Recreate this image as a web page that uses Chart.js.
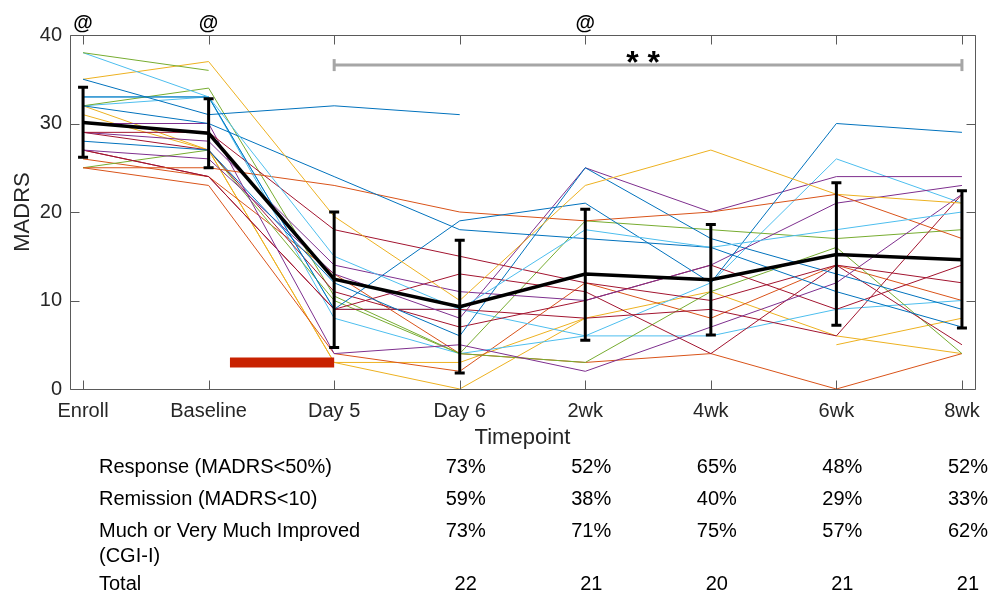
<!DOCTYPE html>
<html><head><meta charset="utf-8">
<script src="https://cdn.jsdelivr.net/npm/chart.js@4.4.1/dist/chart.umd.min.js"></script>
<style>
html,body{margin:0;padding:0;background:#fff;}
#wrap{position:relative;width:991px;height:594px;overflow:hidden;}
#c{position:absolute;left:0;top:0;}
.t{position:absolute;font-family:"Liberation Sans",Arial,Helvetica,sans-serif;color:#000;white-space:nowrap;font-size:20px;line-height:24px;}
.c{transform:translateX(-50%);}
.b{font-weight:bold;}
</style></head><body>
<div id="wrap"><canvas id="c" width="991" height="594"></canvas></div>
<script>
// ---------- data ----------
const timepoints = ['Enroll','Baseline','Day 5','Day 6','2wk','4wk','6wk','8wk'];
const yTicks = [0, 10, 20, 30, 40];
const meanMADRS = [30.1, 28.9, 12.4, 9.3, 13.0, 12.35, 15.2, 14.6];
const errLow  = [26.2, 25.0, 4.7, 1.8, 5.5, 6.1, 7.2, 6.9];
const errHigh = [34.1, 32.8, 20.0, 16.8, 20.3, 18.6, 23.3, 22.4];

const s01 = [35, 31, 32, 31, null, null, null, null];
const s02 = [38, 36, null, null, null, null, null, null];
const s03 = [38, 33, 15, 9, 18, 16, 18, 20];
const s04 = [35, 37, 19.5, 10, 23, 27, 22, 21];
const s05 = [32, 30, 24, 18, 17, 16, 11, 7];
const s06 = [33, 33, 9, 19, 21, 12, 30, 29];
const s07 = [25, 25, 23, 20, 19, 20, 22, 17];
const s08 = [29, 29, 18, 15, 12, 10, 14, 12];
const s09 = [29, 28, 14, 11, 10, 14, 21, 23];
const s10 = [30, 30, 4, 5, 2, 7, 12, 22];
const s11 = [28, 27, 12, 6, 25, 17, 13, 9];
const s12 = [27, 26, 13, 8, 25, 20, 24, 24];
const s13 = [29, 27, 11, 7, 10, 14, 9, 14];
const s14 = [27, 24, 9, 13, 11, 4, 14, 5];
const s15 = [27, 24, 9, 9, 8, 9, 6, 22];
const s16 = [32, 34, 10.5, 4, 19, 18, 17, 18];
const s17 = [25, 27, 10, 4, 3, 11, 16, 4];
const s18 = [32, 33, 8, 4, 6, 6, 9, 10];
const s19 = [33, 33, 9, 9, 6, 12, 26, 21];
const s20 = [25, 23, 4, 2, 12, 8, 14, 10];
const s21 = [26, 24, 13, 4, 3, 4, 0, 4];
const s22 = [32, 27, 3, 3, 8, null, 5, 8];
const s23 = [31, 27, 3, 0, 8, 11, 6, 4];
const subjects = [s01,s02,s03,s04,s05,s06,s07,s08,s09,s10,s11,s12,s13,s14,s15,s16,s17,s18,s19,s20,s21,s22,s23];

const sigSpan = [2, 7];        // Day 5 .. 8wk
const sigLevel = 36.6;
const infusionSpan = [1.17, 2];
const infusionLevel = 3;
const atMarks = ['Enroll', 'Baseline', '2wk'];
const sigText = '* *';

const tableRowLabels = ['Response (MADRS<50%)', 'Remission (MADRS<10)', 'Much or Very Much Improved', '(CGI-I)', 'Total'];
const tableCols = ['Day 6', '2wk', '4wk', '6wk', '8wk'];
const responsePct  = ['73%', '52%', '65%', '48%', '52%'];
const remissionPct = ['59%', '38%', '40%', '29%', '33%'];
const cgiPct       = ['73%', '71%', '75%', '57%', '62%'];
const totalN       = ['22', '21', '20', '21', '21'];

// ---------- styles ----------
const M = ['#0072BD','#D95319','#EDB120','#7E2F8E','#77AC30','#4DBEEE','#A2142F'];
const subjectColors = [M[0],M[4],M[5],M[2],M[0],M[0],M[1],M[6],M[3],M[3],M[0],M[3],M[6],M[6],M[6],M[4],M[4],M[5],M[5],M[1],M[1],M[2],M[2]];
const FONT = '"Liberation Sans", Arial, Helvetica, sans-serif';
const toPts = arr => arr.map((v, i) => ({x: i, y: v}));

const datasets = [];
subjects.forEach((s, k) => datasets.push({
  data: toPts(s), borderColor: subjectColors[k], borderWidth: 1, pointRadius: 0,
  spanGaps: false, order: 10, tension: 0
}));
datasets.push({
  data: toPts(meanMADRS), borderColor: '#000', borderWidth: 3.5, pointRadius: 0, order: 0
});
datasets.push({
  data: sigSpan.map(v => ({x: v, y: sigLevel})), borderColor: '#A6A6A6', borderWidth: 3,
  pointStyle: 'line', pointRotation: 90, pointRadius: 6, pointBorderWidth: 3,
  pointBorderColor: '#A6A6A6', order: 1
});
datasets.push({
  data: infusionSpan.map(v => ({x: v, y: infusionLevel})), borderColor: '#C82200', borderWidth: 10,
  borderCapStyle: 'butt', pointRadius: 0, order: 1
});

const framePlugin = {
  id: 'framePlugin',
  afterDatasetsDraw(chart) {
    const {ctx, scales: {x, y}} = chart;
    ctx.save();
    ctx.strokeStyle = '#000'; ctx.lineWidth = 3; ctx.lineCap = 'butt';
    meanMADRS.forEach((m, i) => {
      const px = x.getPixelForValue(i);
      const lo = y.getPixelForValue(errLow[i]), hi = y.getPixelForValue(errHigh[i]);
      ctx.beginPath();
      ctx.moveTo(px, lo); ctx.lineTo(px, hi);
      ctx.moveTo(px - 5, lo); ctx.lineTo(px + 5, lo);
      ctx.moveTo(px - 5, hi); ctx.lineTo(px + 5, hi);
      ctx.stroke();
    });
    ctx.restore();
  },
  afterDraw(chart) {
    const {ctx, chartArea: a, scales: {x, y}} = chart;
    ctx.save();
    ctx.strokeStyle = '#5a5a5a'; ctx.lineWidth = 1;
    const L = Math.round(a.left) + 0.5, R = Math.round(a.right) + 0.5;
    const T = Math.round(a.top) + 0.5, B = Math.round(a.bottom) + 0.5;
    ctx.beginPath();
    ctx.moveTo(L, T); ctx.lineTo(R, T); ctx.lineTo(R, B); ctx.lineTo(L, B); ctx.closePath();
    const tl = 9;
    x.ticks.forEach(t => {
      const px = Math.round(x.getPixelForValue(t.value)) + 0.5;
      ctx.moveTo(px, B); ctx.lineTo(px, B - tl);
      ctx.moveTo(px, T); ctx.lineTo(px, T + tl);
    });
    y.ticks.forEach(t => {
      const py = Math.round(y.getPixelForValue(t.value)) + 0.5;
      ctx.moveTo(L, py); ctx.lineTo(L + tl, py);
      ctx.moveTo(R, py); ctx.lineTo(R - tl, py);
    });
    ctx.stroke();
    ctx.restore();
  }
};

const chart = new Chart(document.getElementById('c'), {
  type: 'line',
  data: {datasets},
  plugins: [framePlugin],
  options: {
    responsive: false, animation: false,
    layout: {padding: {left: 10, right: 16, top: 35, bottom: 143}},
    plugins: {legend: {display: false}, tooltip: {enabled: false}},
    scales: {
      x: {
        type: 'linear', min: -0.104, max: 7.104,
        afterBuildTicks: s => { s.ticks = timepoints.map((_, i) => ({value: i})); },
        afterFit: s => { s.height = 62; },
        ticks: {callback: v => timepoints[v] ?? '', color: '#262626', font: {family: FONT, size: 20}, padding: 10, maxRotation: 0, autoSkip: false},
        grid: {display: false, drawTicks: false},
        border: {display: false},
        title: {display: true, text: 'Timepoint', color: '#262626', font: {family: FONT, size: 22}, padding: {top: 0, bottom: 0}}
      },
      y: {
        min: 0, max: 40,
        afterBuildTicks: s => { s.ticks = yTicks.map(v => ({value: v})); },
        afterFit: s => { s.width = 60; },
        ticks: {color: '#262626', font: {family: FONT, size: 20}, padding: 8},
        grid: {display: false, drawTicks: false},
        border: {display: false},
        title: {display: true, text: 'MADRS', color: '#262626', font: {family: FONT, size: 22}, padding: {top: 0, bottom: 4}}
      }
    }
  }
});

// ---------- text overlays ----------
const wrap = document.getElementById('wrap');
function addText(txt, left, centerY, cls, size) {
  const d = document.createElement('div');
  d.className = 't ' + (cls || '');
  d.textContent = txt;
  const lh = Math.round(size * 1.2);
  d.style.fontSize = size + 'px'; d.style.lineHeight = lh + 'px';
  d.style.left = left + 'px';
  d.style.top = (centerY - lh / 2) + 'px';
  wrap.appendChild(d);
}
const xs = chart.scales.x, ys = chart.scales.y;
atMarks.forEach(m => addText('@', xs.getPixelForValue(timepoints.indexOf(m)), 22, 'c b', 20));
addText(sigText, (xs.getPixelForValue(sigSpan[0]) + xs.getPixelForValue(sigSpan[1])) / 2 - 5, ys.getPixelForValue(sigLevel) - 3, 'c b', 32);

const rowY = [466, 498, 530, 555, 583];
tableRowLabels.forEach((lab, r) => addText(lab, 99, rowY[r], '', 20));
const rows = [[responsePct, 0], [remissionPct, 1], [cgiPct, 2], [totalN, 4]];
rows.forEach(([vals, r]) => {
  tableCols.forEach((col, j) => {
    addText(vals[j], xs.getPixelForValue(timepoints.indexOf(col)) + 6, rowY[r], 'c', 20);
  });
});
</script>
</body></html>
